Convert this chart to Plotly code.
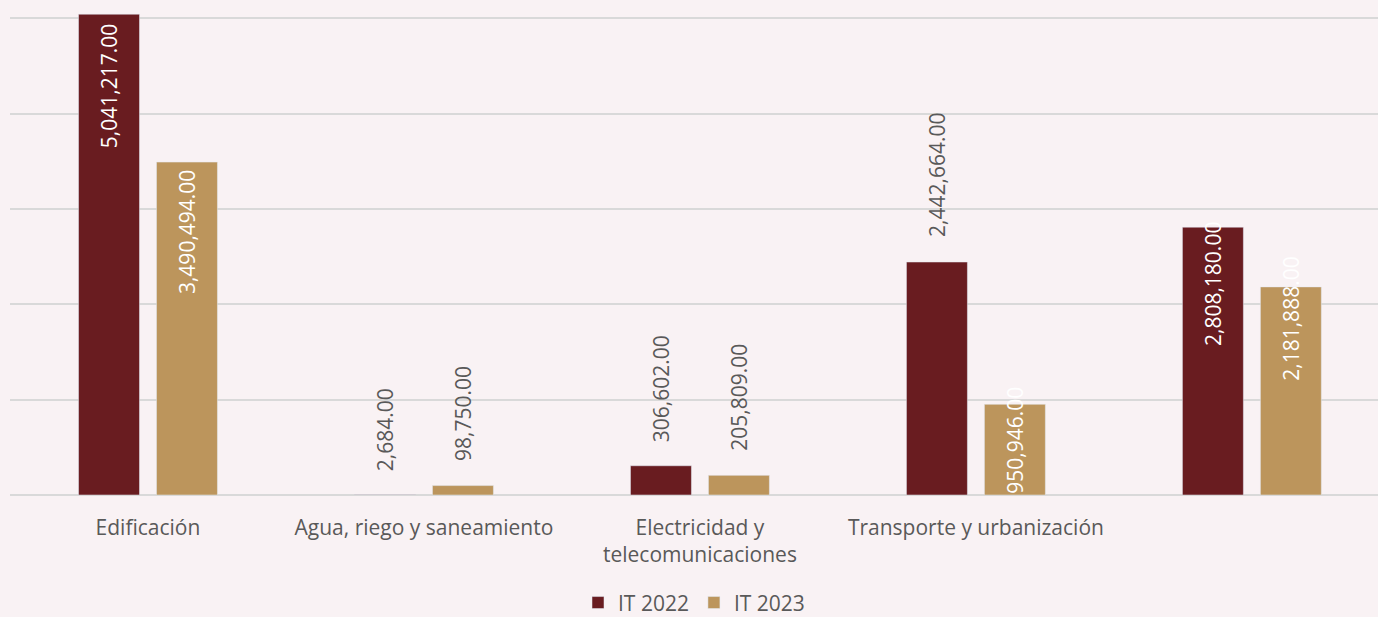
import plotly.graph_objects as go

categories = ["Edificación", "Agua, riego y saneamiento", "Electricidad y<br>telecomunicaciones",
              "Transporte y urbanización", ""]
it_2022 = [5041217.00, 2684.00, 306602.00, 2442664.00, 2808180.00]
it_2023 = [3490494.00, 98750.00, 205809.00, 950946.00, 2181888.00]

# label placement as in the original: inside (white) or above the bar (grey),
# and how far (px, upward) the label edge sits from the bar top
outside_2022 = [False, True, True, True, False]
outside_2023 = [False, True, True, False, False]
lift_2022 = [-8, 22, 22, 23, 7]
lift_2023 = [-6, 23, 23, 20, 32]

DARK = "#691c20"
GOLD = "#bc955c"
GREY = "#595959"
FONT = "Open Sans"
FS = 21

x = list(range(len(categories)))

fig = go.Figure()
fig.add_trace(go.Bar(x=x, y=it_2022, name="IT 2022", marker_color=DARK))
fig.add_trace(go.Bar(x=x, y=it_2023, name="IT 2023", marker_color=GOLD))

annots = []
for vals, outside, lift, shift in [(it_2022, outside_2022, lift_2022, -39),
                                   (it_2023, outside_2023, lift_2023, 39)]:
    for i, v in enumerate(vals):
        annots.append(dict(x=i, y=v, text=f"{v:,.2f}", showarrow=False, textangle=-90,
                           xshift=shift, yshift=lift[i],
                           yanchor="bottom" if outside[i] else "top",
                           font=dict(color=GREY if outside[i] else "white", size=FS, family=FONT)))

fig.update_layout(
    width=1378, height=617,
    margin=dict(l=10, r=0, t=0, b=122, autoexpand=False),
    paper_bgcolor="#f9f2f4", plot_bgcolor="rgba(0,0,0,0)",
    barmode="group", bargap=0.435, bargroupgap=0.218,
    font=dict(family=FONT, color=GREY, size=FS),
    legend=dict(orientation="h", x=0.5, xanchor="center", y=-0.218, yanchor="middle",
                font=dict(size=FS, color=GREY), itemwidth=30),
    annotations=annots,
    showlegend=True,
)
fig.update_xaxes(tickvals=x, ticktext=categories, range=[-0.5, 4.457],
                 showgrid=False, ticks="", ticklabelstandoff=18,
                 tickfont=dict(size=FS, color=GREY))
fig.update_yaxes(range=[0, 5.19e6], dtick=1e6, showticklabels=False,
                 gridcolor="#d9d9d9", gridwidth=1.5, zeroline=True,
                 zerolinecolor="#d9d9d9", zerolinewidth=1.5)

fig.write_html("out.html", config={"displayModeBar": False},
               post_script="document.body.style.margin='0';")
